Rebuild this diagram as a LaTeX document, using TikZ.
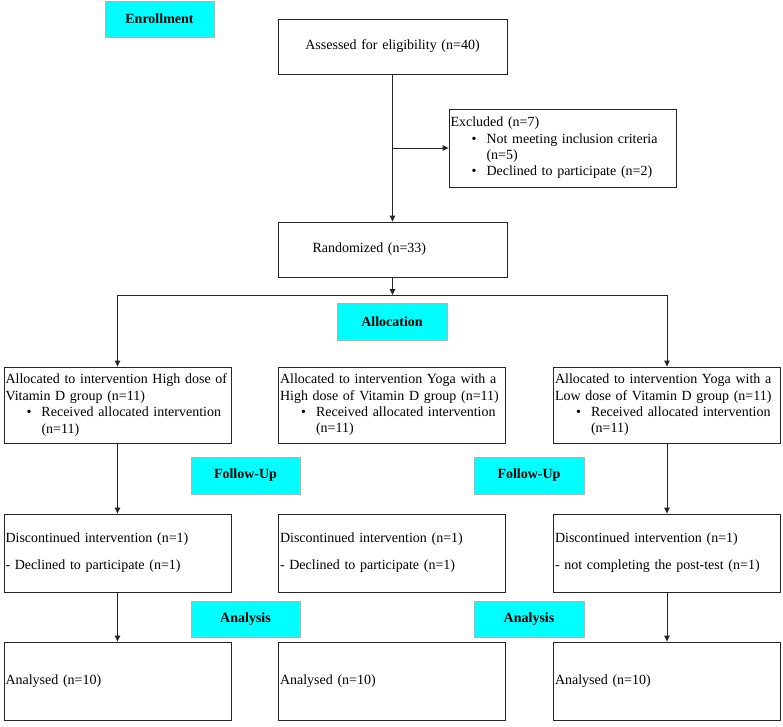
\documentclass[tikz,border=0pt]{standalone}
\usepackage{fontspec}
\setmainfont{Liberation Serif}
\usetikzlibrary{arrows.meta}
\setlength{\parskip}{0pt}
\definecolor{aqua}{RGB}{0,255,255}
\newcommand{\bitem}[1]{\par\leftskip=36pt\noindent\llap{\textbullet\hspace{10pt}}#1\par}
\tikzset{
  txt/.style={font=\fontsize{14}{16.4}\selectfont},
  base/.style={txt, draw=black!85, line width=0.9pt, inner ysep=0pt},
  lbox/.style={base, minimum width=227pt, text width=224pt, inner xsep=1.5pt, align=left},
  cbox/.style={base, minimum width=229pt, minimum height=55pt, text width=224pt, inner xsep=2.5pt, align=center},
  lab/.style={fill=aqua, draw=black!30, line width=0.7pt, font=\fontsize{14}{16}\selectfont\bfseries,
              minimum height=36pt, inner sep=0pt},
  conn/.style={draw=black!85, line width=0.9pt},
  arr/.style={conn, -{Triangle[length=6pt,width=5.5pt]}}
}
\begin{document}
\begin{tikzpicture}[x=1pt,y=-1pt]
\useasboundingbox (0,0) rectangle (783,726);
% stage labels
\node[lab, minimum width=109pt] (enroll) at (159.5,19) {Enrollment};
\node[lab, minimum width=110pt, minimum height=37pt] (alloc) at (392,321.5) {Allocation};
\node[lab, minimum width=109pt, minimum height=37pt] (fu1) at (245.5,475.5) {Follow-Up};
\node[lab, minimum width=110pt, minimum height=37pt] (fu2) at (529,475.5) {Follow-Up};
\node[lab, minimum width=109pt] (an1) at (245.5,619) {Analysis};
\node[lab, minimum width=110pt] (an2) at (529,619) {Analysis};
% enrollment
\node[cbox] (assess) at (392.5,46.5) {Assessed for eligibility (n=40)};
\node[lbox, minimum height=78pt] (excl) at (562.5,148)
  {Excluded (n=7)\bitem{Not meeting inclusion criteria\par (n=5)}\bitem{Declined to participate (n=2)}};
\node[base, minimum width=229pt, minimum height=55pt, text width=224pt, inner xsep=2.5pt, align=left] (rand) at (392.5,249.5)
  {\hspace*{32pt}Randomized (n=33)};
% allocation
\node[lbox, minimum height=76pt] (A1) at (117.5,405)
  {Allocated to intervention High dose of\par Vitamin D group (n=11)\bitem{Received allocated intervention\par (n=11)}};
\node[lbox, minimum height=76pt] (A2) at (392,405)
  {Allocated to intervention Yoga with a\par High dose of Vitamin D group (n=11)\bitem{Received allocated intervention\par (n=11)}};
\node[lbox, minimum height=76pt] (A3) at (667,405)
  {Allocated to intervention Yoga with a\par Low dose of Vitamin D group (n=11)\bitem{Received allocated intervention\par (n=11)}};
% follow-up
\node[lbox, minimum height=78pt] (D1) at (117.5,553)
  {Discontinued intervention (n=1)\par\vspace{10.6pt}- Declined to participate (n=1)};
\node[lbox, minimum height=78pt] (D2) at (392,553)
  {Discontinued intervention (n=1)\par\vspace{10.6pt}- Declined to participate (n=1)};
\node[lbox, minimum height=78pt] (D3) at (667,553)
  {Discontinued intervention (n=1)\par\vspace{10.6pt}- not completing the post-test (n=1)};
% analysis
\node[lbox, minimum height=78pt] (N1) at (117.5,681) {Analysed (n=10)};
\node[lbox, minimum height=78pt] (N2) at (392,681) {Analysed (n=10)};
\node[lbox, minimum height=78pt] (N3) at (667,681) {Analysed (n=10)};
% connectors
\draw[arr] (assess) -- (rand);
\coordinate (exsplit) at (assess.south |- excl.west);
\draw[arr] (exsplit) -- (excl.west);
\coordinate (ly) at (0,295);
\coordinate (split) at (rand.south |- ly);
\draw[arr] (rand) -- (split);
\coordinate (sl) at (A1.north |- ly);
\coordinate (sr) at (A3.north |- ly);
\draw[conn] (sl) -- (sr);
\draw[arr] (sl) -- (A1.north);
\draw[arr] (sr) -- (A3.north);
\draw[arr] (A1) -- (D1);
\draw[arr] (A3) -- (D3);
\draw[arr] (D1) -- (N1);
\draw[arr] (D3) -- (N3);
\end{tikzpicture}
\end{document}
